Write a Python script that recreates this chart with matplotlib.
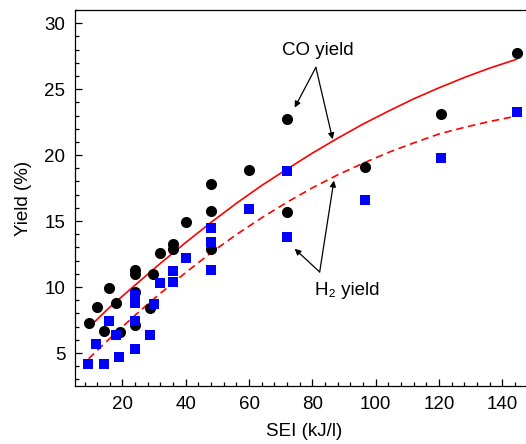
import matplotlib.pyplot as plt
from matplotlib.ticker import MultipleLocator

plt.rcParams['font.family'] = ['Liberation Sans', 'DejaVu Sans']

# CO yield points (black circles)
co_sei = [9.3, 11.8, 14.2, 15.7, 17.8, 19.1, 24, 24, 24, 24, 28.6, 29.7, 32, 36, 36, 40,
          48, 48, 48, 60, 72, 72, 96.5, 120.5, 144.5]
co_yield = [7.3, 8.5, 6.7, 9.9, 8.8, 6.6, 11.3, 11.0, 9.6, 7.1, 8.4, 11.0, 12.6, 13.3, 12.9, 14.9,
            17.8, 15.8, 12.9, 18.9, 22.7, 15.7, 19.1, 23.1, 27.7]

# H2 yield points (blue squares)
h2_sei = [9.1, 11.6, 14.1, 15.7, 17.8, 18.9, 23.8, 23.8, 23.8, 23.8, 28.6, 29.9, 32, 36, 36, 40,
          48, 48, 48, 60, 72, 72, 96.5, 120.5, 144.5]
h2_yield = [4.2, 5.7, 4.2, 7.4, 6.4, 4.7, 9.4, 8.8, 7.4, 5.3, 6.4, 8.7, 10.3, 11.2, 10.4, 12.2,
            14.5, 13.4, 11.3, 15.9, 18.8, 13.8, 16.6, 19.8, 23.3]

# fitted curves
fit_x = [9.3, 16, 24, 32, 40, 48, 56, 64, 72, 80, 88, 96, 104, 112, 120, 128, 136, 144.5]
co_fit = [6.93, 8.48, 10.15, 11.8, 13.38, 14.9, 16.35, 17.7, 18.94, 20.15, 21.28, 22.35,
          23.33, 24.26, 25.1, 25.88, 26.59, 27.26]
h2_fit = [4.57, 6.11, 7.87, 9.53, 11.1, 12.6, 13.98, 15.25, 16.43, 17.52, 18.5, 19.38,
          20.2, 20.92, 21.6, 22.1, 22.55, 22.95]

fig = plt.figure(figsize=(5.26, 4.44), dpi=100)
ax = fig.add_axes([0.1426, 0.1306, 0.8725, 0.847])

ax.plot(fit_x, co_fit, color='#ff0000', lw=1.2, zorder=2)
ax.plot(fit_x, h2_fit, color='#ff0000', lw=1.2, ls=(0, (4.5, 2.8)), zorder=2)
ax.plot(co_sei, co_yield, 'o', color='black', ms=8.0, mew=0, zorder=3)
ax.plot(h2_sei, h2_yield, 's', color='#0000ff', ms=6.7, mew=0, zorder=3)

ax.set_xlim(5, 150)
ax.set_ylim(2.5, 31)
ax.xaxis.set_major_locator(MultipleLocator(20))
ax.xaxis.set_minor_locator(MultipleLocator(4))
ax.yaxis.set_major_locator(MultipleLocator(5))
ax.yaxis.set_minor_locator(MultipleLocator(1))
ax.tick_params(which='both', direction='in', top=False, right=False, labelsize=13.5)
ax.tick_params(which='major', length=5, width=0.9)
ax.tick_params(which='minor', length=3, width=0.9)
ax.tick_params(axis='x', pad=7.5)
ax.tick_params(axis='y', pad=7)
for s in ax.spines.values():
    s.set_linewidth(0.9)

ax.set_xlabel('SEI (kJ/l)', fontsize=13.5, labelpad=7)
ax.set_ylabel('Yield (%)', fontsize=13.5, labelpad=9)

arw = dict(arrowstyle='-|>', color='black', lw=0.9, mutation_scale=9, shrinkA=0, shrinkB=0)
ax.annotate('', xy=(74.4, 23.6), xytext=(81.1, 26.65), arrowprops=arw)
ax.annotate('', xy=(86.4, 21.2), xytext=(81.1, 26.65), arrowprops=arw)
ax.text(81.7, 27.9, 'CO yield', fontsize=13.5, ha='center', va='center')
ax.annotate('', xy=(74.4, 12.9), xytext=(82.3, 11.14), arrowprops=arw)
ax.annotate('', xy=(86.8, 18.07), xytext=(82.3, 11.14), arrowprops=arw)
ax.text(80.8, 9.77, 'H₂ yield', fontsize=13.5, ha='left', va='center')

fig.savefig('out.png', dpi=100, facecolor='white')
